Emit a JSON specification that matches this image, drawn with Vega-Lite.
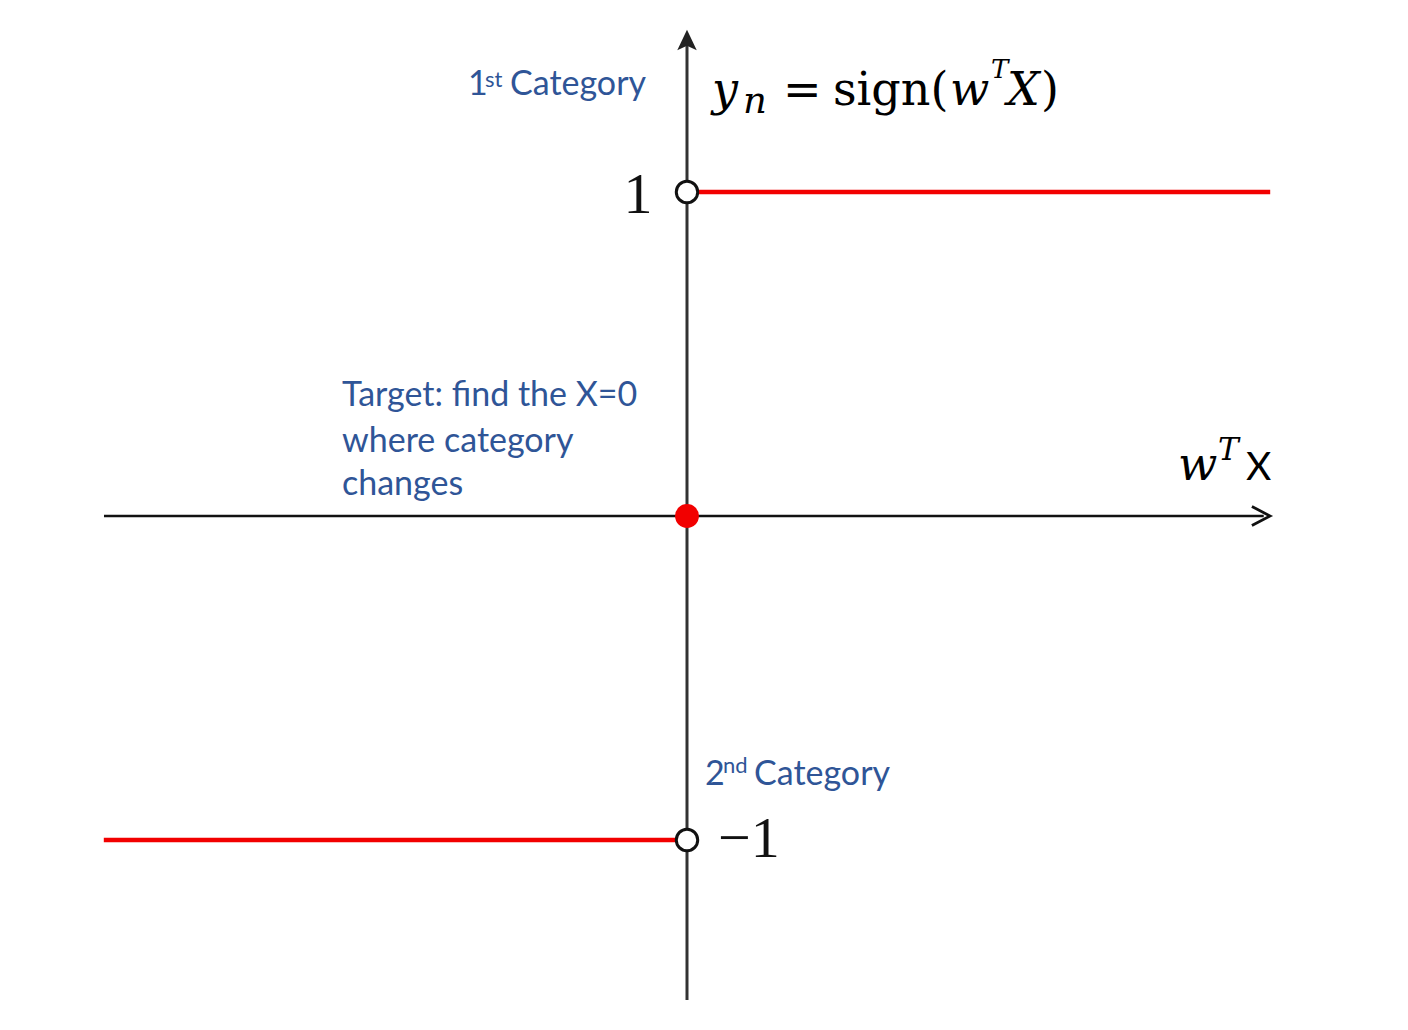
{
  "$schema": "https://vega.github.io/schema/vega-lite/v6.json",
  "autosize": {"type": "fit", "contains": "padding"},
  "width": 1408,
  "height": 1030,
  "padding": 0,
  "background": "white",
  "config": {"view": {"stroke": null}},
  "datasets": {
    "axes": [
      {"name": "h", "x1": -1.7994, "x2": 1.78, "y1": 0, "y2": 0},
      {"name": "v", "x1": 0, "x2": 0, "y1": -1.4938, "y2": 1.475}
    ],
    "steps": [
      {"seg": "pos", "x1": 0, "x2": 1.8, "y": 1},
      {"seg": "neg", "x1": -1.8, "x2": 0, "y": -1}
    ],
    "open": [{"x": 0, "y": 1}, {"x": 0, "y": -1}],
    "closed": [{"x": 0, "y": 0}],
    "arrows": [
      {"dir": "up", "x": 0, "y": 1.4691},
      {"dir": "right", "x": 1.7716, "y": 0}
    ],
    "labels": [
      {"kind": "blue", "text": "1", "x": -0.6759, "y": 1.2994},
      {"kind": "bluesup", "text": "st", "x": -0.6235, "y": 1.3241},
      {"kind": "blue", "text": "Category", "x": -0.5463, "y": 1.2994},
      {"kind": "blue", "text": "Target: find the X=0", "x": -1.0648, "y": 0.3395},
      {"kind": "blue", "text": "where category", "x": -1.0648, "y": 0.1975},
      {"kind": "blue", "text": "changes", "x": -1.0648, "y": 0.0648},
      {"kind": "blue", "text": "2", "x": 0.0556, "y": -0.8302},
      {"kind": "bluesup", "text": "nd", "x": 0.1111, "y": -0.7932},
      {"kind": "blue", "text": "Category", "x": 0.2068, "y": -0.8302},
      {"kind": "tickc", "text": "1", "x": -0.1512, "y": 0.9352},
      {"kind": "tickl", "text": "−1", "x": 0.0957, "y": -1.0525},
      {"kind": "mathit", "text": "y", "x": 0.0772, "y": 1.2685},
      {"kind": "mathsub", "text": "n", "x": 0.1728, "y": 1.2438},
      {"kind": "math", "text": "=", "x": 0.2963, "y": 1.2685},
      {"kind": "math", "text": "sign(", "x": 0.4506, "y": 1.2685},
      {"kind": "mathit", "text": "w", "x": 0.8117, "y": 1.2685},
      {"kind": "mathsup", "text": "T", "x": 0.9383, "y": 1.3519},
      {"kind": "mathit", "text": "X", "x": 0.9877, "y": 1.2685},
      {"kind": "math", "text": ")", "x": 1.0926, "y": 1.2685},
      {"kind": "mathit", "text": "w", "x": 1.5154, "y": 0.1111},
      {"kind": "axsup", "text": "T", "x": 1.6389, "y": 0.1728},
      {"kind": "axis", "text": "X", "x": 1.7253, "y": 0.1111}
    ]
  },
  "layer": [
    {
      "data": {"name": "axes"},
      "transform": [{"filter": "datum.name == 'h'"}],
      "mark": {"type": "rule", "color": "#111111", "strokeWidth": 2.5},
      "encoding": {
        "x": {"field": "x1", "type": "quantitative", "scale": {"domain": [-2.12037, 2.22531], "nice": false, "zero": false}, "axis": null},
        "x2": {"field": "x2"},
        "y": {"field": "y1", "type": "quantitative", "scale": {"domain": [-1.58642, 1.59259], "nice": false, "zero": false}, "axis": null},
        "y2": {"field": "y2"}
      }
    },
    {
      "data": {"name": "axes"},
      "transform": [{"filter": "datum.name == 'v'"}],
      "mark": {"type": "rule", "color": "#333333", "strokeWidth": 3},
      "encoding": {
        "x": {"field": "x1", "type": "quantitative"},
        "x2": {"field": "x2"},
        "y": {"field": "y1", "type": "quantitative"},
        "y2": {"field": "y2"}
      }
    },
    {
      "data": {"name": "steps"},
      "mark": {"type": "rule", "color": "#f20000", "strokeWidth": 4.5},
      "encoding": {
        "x": {"field": "x1", "type": "quantitative"},
        "x2": {"field": "x2"},
        "y": {"field": "y", "type": "quantitative"}
      }
    },
    {
      "data": {"name": "arrows"},
      "transform": [{"filter": "datum.dir == 'up'"}],
      "mark": {"type": "point", "shape": "M0,-1 L0.95,1 L0,0.55 L-0.95,1 Z", "size": 420, "filled": true, "color": "#222222", "opacity": 1, "strokeWidth": 0},
      "encoding": {
        "x": {"field": "x", "type": "quantitative"},
        "y": {"field": "y", "type": "quantitative"}
      }
    },
    {
      "data": {"name": "arrows"},
      "transform": [{"filter": "datum.dir == 'right'"}],
      "mark": {"type": "point", "shape": "M-1,-1.05 L1,0 L-1,1.05", "size": 330, "filled": false, "stroke": "#111111", "strokeWidth": 2.8, "opacity": 1},
      "encoding": {
        "x": {"field": "x", "type": "quantitative"},
        "y": {"field": "y", "type": "quantitative"}
      }
    },
    {
      "data": {"name": "open"},
      "mark": {"type": "point", "shape": "circle", "size": 460, "filled": true, "fill": "white", "stroke": "#111111", "strokeWidth": 3, "opacity": 1},
      "encoding": {
        "x": {"field": "x", "type": "quantitative"},
        "y": {"field": "y", "type": "quantitative"}
      }
    },
    {
      "data": {"name": "closed"},
      "mark": {"type": "point", "shape": "circle", "size": 570, "filled": true, "color": "#f20000", "opacity": 1, "strokeWidth": 0},
      "encoding": {
        "x": {"field": "x", "type": "quantitative"},
        "y": {"field": "y", "type": "quantitative"}
      }
    },
    {
      "data": {"name": "labels"},
      "transform": [{"filter": "datum.kind == 'blue'"}],
      "mark": {"type": "text", "align": "left", "baseline": "alphabetic", "font": "Lato", "fontSize": 34, "color": "#2F5597"},
      "encoding": {
        "x": {"field": "x", "type": "quantitative"},
        "y": {"field": "y", "type": "quantitative"},
        "text": {"field": "text"}
      }
    },
    {
      "data": {"name": "labels"},
      "transform": [{"filter": "datum.kind == 'bluesup'"}],
      "mark": {"type": "text", "align": "left", "baseline": "alphabetic", "font": "Lato", "fontSize": 22, "color": "#2F5597"},
      "encoding": {
        "x": {"field": "x", "type": "quantitative"},
        "y": {"field": "y", "type": "quantitative"},
        "text": {"field": "text"}
      }
    },
    {
      "data": {"name": "labels"},
      "transform": [{"filter": "datum.kind == 'tickc'"}],
      "mark": {"type": "text", "align": "center", "baseline": "alphabetic", "font": "Liberation Serif", "fontSize": 58, "color": "#111111"},
      "encoding": {
        "x": {"field": "x", "type": "quantitative"},
        "y": {"field": "y", "type": "quantitative"},
        "text": {"field": "text"}
      }
    },
    {
      "data": {"name": "labels"},
      "transform": [{"filter": "datum.kind == 'tickl'"}],
      "mark": {"type": "text", "align": "left", "baseline": "alphabetic", "font": "Liberation Serif", "fontSize": 58, "color": "#111111"},
      "encoding": {
        "x": {"field": "x", "type": "quantitative"},
        "y": {"field": "y", "type": "quantitative"},
        "text": {"field": "text"}
      }
    },
    {
      "data": {"name": "labels"},
      "transform": [{"filter": "datum.kind == 'math'"}],
      "mark": {"type": "text", "align": "left", "baseline": "alphabetic", "font": "DejaVu Serif", "fontSize": 46, "color": "#000000"},
      "encoding": {
        "x": {"field": "x", "type": "quantitative"},
        "y": {"field": "y", "type": "quantitative"},
        "text": {"field": "text"}
      }
    },
    {
      "data": {"name": "labels"},
      "transform": [{"filter": "datum.kind == 'mathit'"}],
      "mark": {"type": "text", "align": "left", "baseline": "alphabetic", "font": "DejaVu Serif", "fontStyle": "italic", "fontSize": 46, "color": "#000000"},
      "encoding": {
        "x": {"field": "x", "type": "quantitative"},
        "y": {"field": "y", "type": "quantitative"},
        "text": {"field": "text"}
      }
    },
    {
      "data": {"name": "labels"},
      "transform": [{"filter": "datum.kind == 'mathsub'"}],
      "mark": {"type": "text", "align": "left", "baseline": "alphabetic", "font": "DejaVu Serif", "fontStyle": "italic", "fontSize": 37, "color": "#000000"},
      "encoding": {
        "x": {"field": "x", "type": "quantitative"},
        "y": {"field": "y", "type": "quantitative"},
        "text": {"field": "text"}
      }
    },
    {
      "data": {"name": "labels"},
      "transform": [{"filter": "datum.kind == 'mathsup'"}],
      "mark": {"type": "text", "align": "left", "baseline": "alphabetic", "font": "DejaVu Serif", "fontStyle": "italic", "fontSize": 26, "color": "#000000"},
      "encoding": {
        "x": {"field": "x", "type": "quantitative"},
        "y": {"field": "y", "type": "quantitative"},
        "text": {"field": "text"}
      }
    },
    {
      "data": {"name": "labels"},
      "transform": [{"filter": "datum.kind == 'axsup'"}],
      "mark": {"type": "text", "align": "left", "baseline": "alphabetic", "font": "DejaVu Serif", "fontStyle": "italic", "fontSize": 31, "color": "#000000"},
      "encoding": {
        "x": {"field": "x", "type": "quantitative"},
        "y": {"field": "y", "type": "quantitative"},
        "text": {"field": "text"}
      }
    },
    {
      "data": {"name": "labels"},
      "transform": [{"filter": "datum.kind == 'axis'"}],
      "mark": {"type": "text", "align": "left", "baseline": "alphabetic", "font": "Lato", "fontSize": 39, "color": "#000000"},
      "encoding": {
        "x": {"field": "x", "type": "quantitative"},
        "y": {"field": "y", "type": "quantitative"},
        "text": {"field": "text"}
      }
    }
  ]
}
